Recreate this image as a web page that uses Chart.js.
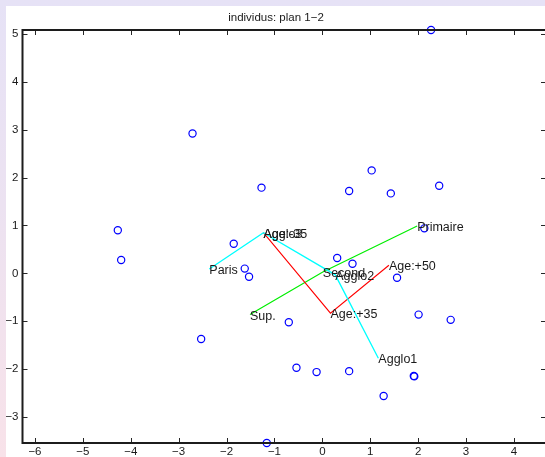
<!DOCTYPE html>
<html>
<head>
<meta charset="utf-8">
<script src="https://cdn.jsdelivr.net/npm/chart.js@4/dist/chart.umd.min.js"></script>
<style>
  html, body { margin: 0; padding: 0; overflow: hidden; }
  body {
    width: 545px; height: 457px;
    background: linear-gradient(180deg, #e6e2f6 0%, #ece2f1 45%, #f8e2e9 100%);
  }
  #wrap { position: absolute; left: 0; top: 0; width: 545px; height: 457px; overflow: hidden; }
  canvas { display: block; }
</style>
</head>
<body>
<div id="wrap"><canvas id="plan12" width="552" height="457"></canvas></div>
<script>
// individuals (blue circles)
const indivX = [2.27, -2.71, -1.27, 1.03, 0.56, 1.43, 2.44, -4.27, -4.20, -1.85, -1.62, -1.53, 0.31,
                0.63, 1.56, 2.13, 2.01, 2.68, -0.70, -2.53, -0.54, -0.12, 0.56, 1.91, 1.92, 1.28, -1.16];
const indivY = [5.08, 2.92, 1.79, 2.15, 1.72, 1.67, 1.83, 0.90, 0.28, 0.62, 0.10, -0.07, 0.32,
                0.20, -0.09, 0.94, -0.86, -0.97, -1.02, -1.37, -1.97, -2.06, -2.04, -2.14, -2.15, -2.56, -3.54];

// variable modalities
const aggloNames = ['Paris', 'Agglo3', 'Agglo2', 'Agglo1'];
const aggloX = [-2.36, -1.23, 0.27, 1.17];
const aggloY = [0.09, 0.85, -0.03, -1.77];

const ageNames = ['Age:-35', 'Age:+35', 'Age:+50'];
const ageX = [-1.23, 0.17, 1.39];
const ageY = [0.85, -0.83, 0.17];

const educNames = ['Sup.', 'Second', 'Primaire'];
const educX = [-1.51, 0.01, 1.98];
const educY = [-0.86, 0.03, 0.99];

const xLimits = [-6.26, 4.67];
const yLimits = [-3.54, 5.08];

const toXY = (xs, ys) => xs.map((x, i) => ({ x: x, y: ys[i] }));
const minus = v => String(v).replace('-', '\u2212');

const labelGroups = [
    { names: aggloNames, xs: aggloX, ys: aggloY },
    { names: ageNames, xs: ageX, ys: ageY },
    { names: educNames, xs: educX, ys: educY }
];

// white figure background, axes box with inward ticks, modality labels
const matlabLook = {
    id: 'matlabLook',
    beforeDraw(chart) {
        const ctx = chart.ctx;
        ctx.save();
        ctx.fillStyle = '#ffffff';
        ctx.fillRect(6, 6, chart.width - 6, chart.height - 6);
        ctx.restore();
    },
    afterDatasetsDraw(chart) {
        const ctx = chart.ctx;
        const xs = chart.scales.x, ys = chart.scales.y;
        ctx.save();
        ctx.font = '12.5px "Liberation Sans", Arial, sans-serif';
        ctx.fillStyle = '#1a1a1a';
        ctx.textAlign = 'left';
        ctx.textBaseline = 'middle';
        labelGroups.forEach(g => {
            g.names.forEach((n, i) => {
                ctx.fillText(n, xs.getPixelForValue(g.xs[i]), ys.getPixelForValue(g.ys[i]) + 1.5);
            });
        });
        ctx.restore();
    },
    afterDraw(chart) {
        const ctx = chart.ctx;
        const a = chart.chartArea;
        const xs = chart.scales.x, ys = chart.scales.y;
        const tick = 5;
        ctx.save();
        ctx.strokeStyle = '#262626';
        ctx.lineWidth = 1;
        ctx.beginPath();
        xs.ticks.forEach(t => {
            const px = Math.round(xs.getPixelForValue(t.value)) + 0.5;
            ctx.moveTo(px, a.bottom); ctx.lineTo(px, a.bottom - tick);
            ctx.moveTo(px, a.top); ctx.lineTo(px, a.top + tick);
        });
        ys.ticks.forEach(t => {
            const py = Math.round(ys.getPixelForValue(t.value)) + 0.5;
            ctx.moveTo(a.left, py); ctx.lineTo(a.left + tick, py);
            ctx.moveTo(a.right, py); ctx.lineTo(a.right - tick, py);
        });
        ctx.stroke();
        ctx.lineWidth = 2;
        ctx.strokeStyle = '#1c1c1c';
        ctx.strokeRect(a.left, a.top, a.right - a.left, a.bottom - a.top);
        ctx.restore();
    }
};

new Chart(document.getElementById('plan12'), {
    type: 'scatter',
    data: {
        datasets: [
            {
                label: 'individus',
                data: toXY(indivX, indivY),
                pointStyle: 'circle',
                pointRadius: 3.6,
                pointBorderWidth: 1.2,
                pointBorderColor: '#0000ff',
                pointBackgroundColor: 'rgba(0,0,0,0)',
                showLine: false,
                clip: false
            },
            {
                label: 'agglo',
                data: toXY(aggloX, aggloY),
                showLine: true,
                borderColor: '#00ffff',
                borderWidth: 1.3,
                pointRadius: 0
            },
            {
                label: 'age',
                data: toXY(ageX, ageY),
                showLine: true,
                borderColor: '#ff0000',
                borderWidth: 1.1,
                pointRadius: 0
            },
            {
                label: 'diplome',
                data: toXY(educX, educY),
                showLine: true,
                borderColor: '#00ee00',
                borderWidth: 1.2,
                pointRadius: 0
            }
        ]
    },
    options: {
        responsive: false,
        animation: false,
        events: [],
        layout: { padding: { left: 6, top: 6, right: 6, bottom: 0 } },
        plugins: {
            legend: { display: false },
            tooltip: { enabled: false },
            title: {
                display: true,
                text: 'individus: plan 1\u22122',
                color: '#1a1a1a',
                font: { family: '"Liberation Sans", Arial, sans-serif', size: 11.5, weight: 'normal', lineHeight: 1.2 },
                padding: { top: 5, bottom: 5.2 }
            }
        },
        scales: {
            x: {
                type: 'linear',
                min: xLimits[0],
                max: xLimits[1],
                grid: { display: false, drawTicks: false },
                border: { display: false },
                ticks: {
                    stepSize: 1,
                    includeBounds: false,
                    maxRotation: 0,
                    padding: 2,
                    color: '#1a1a1a',
                    font: { family: '"Liberation Sans", Arial, sans-serif', size: 11.5 },
                    callback: v => minus(v)
                },
                afterFit: s => { s.height = 14; }
            },
            y: {
                type: 'linear',
                min: yLimits[0],
                max: yLimits[1],
                grid: { display: false, drawTicks: false },
                border: { display: false },
                ticks: {
                    stepSize: 1,
                    includeBounds: false,
                    padding: 4,
                    color: '#1a1a1a',
                    font: { family: '"Liberation Sans", Arial, sans-serif', size: 11.5 },
                    callback: v => minus(v)
                },
                afterFit: s => { s.width = 16.5; }
            }
        }
    },
    plugins: [matlabLook]
});
</script>
</body>
</html>
